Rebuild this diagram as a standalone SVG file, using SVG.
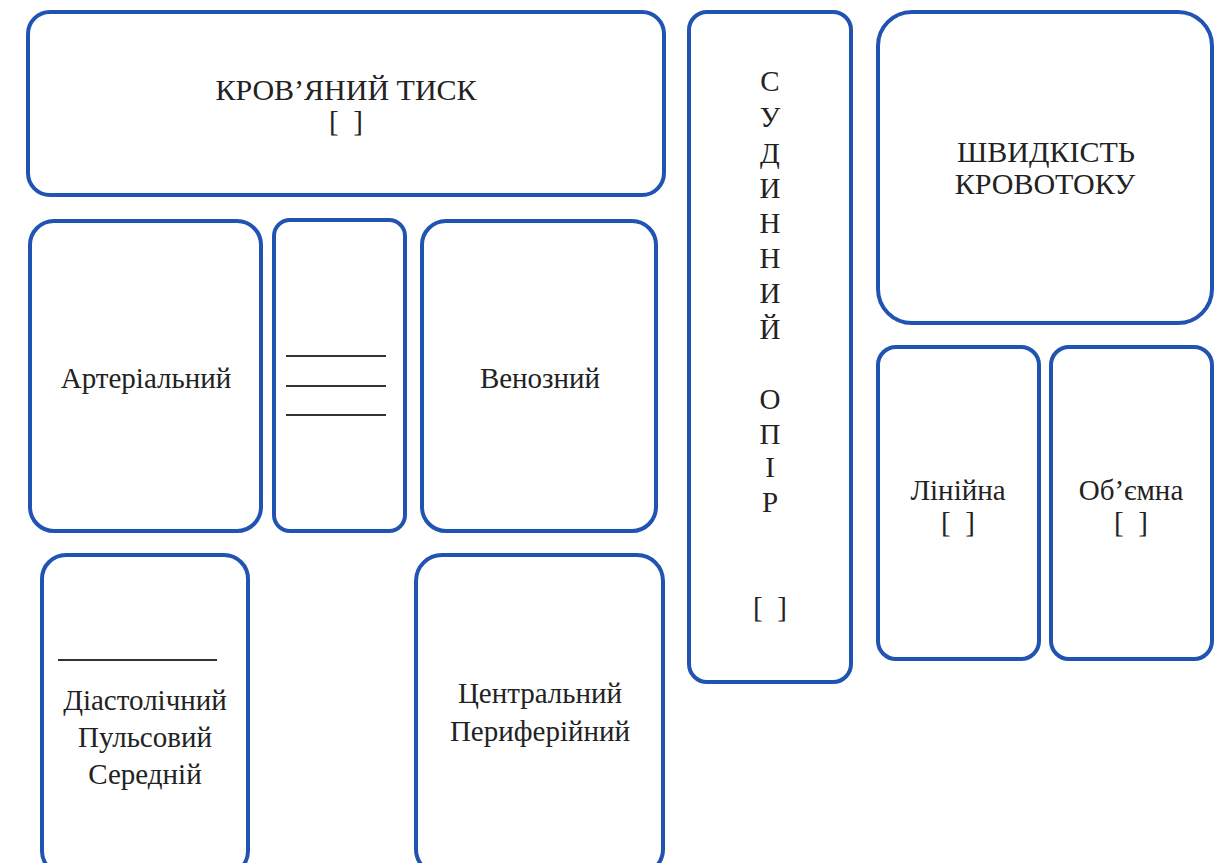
<svg xmlns="http://www.w3.org/2000/svg" width="1223" height="863" viewBox="0 0 1223 863">
<style>
.box{fill:#fff;stroke:#2153b3;stroke-width:4}
.t{font-family:'Liberation Serif','DejaVu Serif',serif;font-size:29px;fill:#222;text-anchor:middle;white-space:pre}
.ln{stroke:#333;stroke-width:2}
</style>
<rect width="1223" height="863" fill="#fff"/>
<g id="krov-tysk"><rect class="box" x="28" y="12" width="636" height="183" rx="22"/><text class="t" x="346" y="100" style="font-size:30px">КРОВ’ЯНИЙ ТИСК</text><text class="t" x="346" y="131">[  ]</text></g>
<g id="arterialnyi"><rect class="box" x="30" y="221" width="231" height="310" rx="24"/><text class="t" x="146" y="388">Артеріальний</text></g>
<g id="blank"><rect class="box" x="274" y="220" width="131" height="311" rx="16"/><line class="ln" x1="286" y1="356" x2="386" y2="356"/><line class="ln" x1="286" y1="386" x2="386" y2="386"/><line class="ln" x1="286" y1="415" x2="386" y2="415"/></g>
<g id="venoznyi"><rect class="box" x="422" y="221" width="234" height="310" rx="24"/><text class="t" x="540" y="388">Венозний</text></g>
<g id="arterial-types"><rect class="box" x="42" y="555" width="206" height="320" rx="24"/><line class="ln" x1="58" y1="660" x2="217" y2="660"/><text class="t" x="145" y="710">Діастолічний</text><text class="t" x="145" y="747">Пульсовий</text><text class="t" x="145" y="784">Середній</text></g>
<g id="venous-types"><rect class="box" x="416" y="555" width="247" height="320" rx="26"/><text class="t" x="540" y="703">Центральний</text><text class="t" x="540" y="741">Периферійний</text></g>
<g id="opir"><rect class="box" x="689" y="12" width="162" height="670" rx="18"/>
<text class="t" x="770" y="91">С</text><text class="t" x="770" y="127">У</text><text class="t" x="770" y="163">Д</text><text class="t" x="770" y="198">И</text><text class="t" x="770" y="233">Н</text><text class="t" x="770" y="268">Н</text><text class="t" x="770" y="303">И</text><text class="t" x="770" y="339">Й</text><text class="t" x="770" y="409">О</text><text class="t" x="770" y="444">П</text><text class="t" x="770" y="477">І</text><text class="t" x="770" y="512">Р</text><text class="t" x="770" y="617">[  ]</text></g>
<g id="shvydkist"><rect class="box" x="878" y="12" width="334" height="311" rx="34"/><text class="t" x="1046" y="162" style="font-size:30px">ШВИДКІСТЬ</text><text class="t" x="1045" y="194" style="font-size:30px">КРОВОТОКУ</text></g>
<g id="liniina"><rect class="box" x="878" y="347" width="161" height="312" rx="18"/><text class="t" x="958" y="500">Лінійна</text><text class="t" x="958" y="532">[  ]</text></g>
<g id="obiemna"><rect class="box" x="1051" y="347" width="161" height="312" rx="18"/><text class="t" x="1131" y="500">Об’ємна</text><text class="t" x="1131" y="532">[  ]</text></g>
<g id="connectors"></g>
</svg>
